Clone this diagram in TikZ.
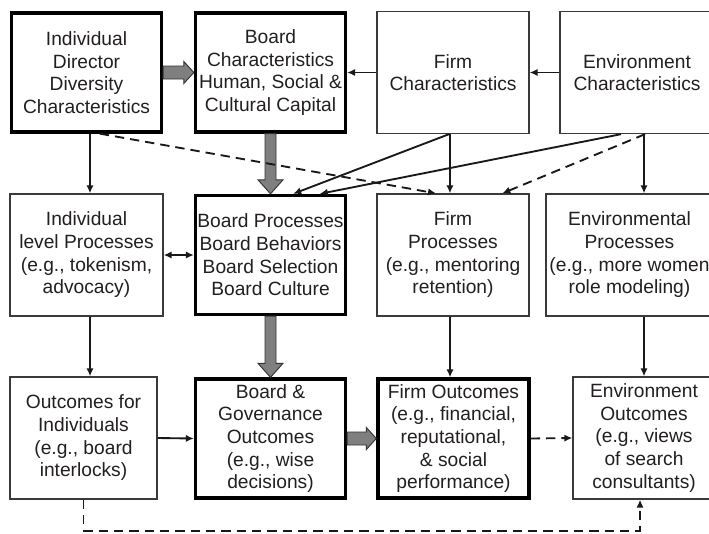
\documentclass[tikz,border=0pt]{standalone}
\usepackage{fontspec}
\setmainfont{Liberation Sans}
\usetikzlibrary{arrows.meta,calc}
\definecolor{txt}{HTML}{231F20}
\definecolor{blkfill}{HTML}{7F7F7F}
\definecolor{thinline}{HTML}{3A3A3A}
\newcommand\vblk[2]{%
 \draw[blk] ($(#1.south)+(-5.5,0)$) -- ($(#2.north)+(-5.5,-14)$) -- ($(#2.north)+(-12.5,-14)$) -- (#2.north) -- ($(#2.north)+(12.5,-14)$) -- ($(#2.north)+(5.5,-14)$) -- ($(#1.south)+(5.5,0)$) -- cycle;}
\newcommand\hblk[2]{%
 \draw[blk] ($(#1.east)+(0,-6.5)$) -- ($(#2.west)+(-10,-6.5)$) -- ($(#2.west)+(-10,-11)$) -- (#2.west) -- ($(#2.west)+(-10,11)$) -- ($(#2.west)+(-10,6.5)$) -- ($(#1.east)+(0,6.5)$) -- cycle;}
\begin{document}
\begin{tikzpicture}[x=0.75pt,y=-0.75pt,
  box/.style={draw=thinline, line width=1pt, align=center, inner sep=0pt,
    minimum height=91.5pt, font=\fontsize{14.4}{17}\selectfont, text=txt},
  thickbox/.style={box, draw=black, line width=2.5pt, minimum height=89.25pt},
  blk/.style={fill=blkfill, draw=black!80, line width=0.7pt, line join=miter},
  arr/.style={draw=black!90, line width=1.4pt, -{Latex[length=6pt,width=5.5pt]}},
  darr/.style={arr, dash pattern=on 7pt off 4.5pt}]
\clip (0,0) rectangle (709,533);
\useasboundingbox (0,0) rectangle (709,533);
\fill[white] (0,0) rectangle (709,533);
% row 1
\node[thickbox, minimum width=112.5pt] (IDD) at (86.5,72.5) {Individual\\Director\\Diversity\\Characteristics};
\node[thickbox, minimum width=112.5pt] (BC) at (270.5,72.5) {Board\\Characteristics\\Human, Social \&\\Cultural Capital};
\node[box, minimum width=114pt] (FC) at (453,72.5) {Firm\\Characteristics};
\node[box, minimum width=115.5pt] (EC) at (637,72.5) {Environment\\Characteristics};
% row 2
\node[box, minimum width=114.75pt] (ILP) at (86.5,255) {Individual\\level Processes\\(e.g., tokenism,\\advocacy)};
\node[thickbox, minimum width=112.5pt] (BP) at (270.5,255) {Board Processes\\Board Behaviors\\Board Selection\\Board Culture};
\node[box, minimum width=114pt] (FP) at (453,255) {Firm\\Processes\\(e.g., mentoring\\retention)};
\node[box, minimum width=125.25pt] (EP) at (629.5,255) {Environmental\\Processes\\(e.g., more women\\role modeling)};
% row 3
\node[box, minimum width=110.25pt] (OI) at (83.5,438) {Outcomes for\\Individuals\\(e.g., board\\interlocks)};
\node[thickbox, minimum width=112.5pt] (BG) at (270.5,438.5) {Board \&\\Governance\\Outcomes\\(e.g., wise\\decisions)};
\node[thickbox, minimum width=113.25pt] (FO) at (453.5,438.5) {Firm Outcomes\\(e.g., financial,\\reputational,\\\& social\\performance)};
\node[box, minimum width=106.5pt] (EO) at (644,438) {Environment\\Outcomes\\(e.g., views\\of search\\consultants)};
% block arrows
\hblk{IDD}{BC}
\vblk{BC}{BP}
\vblk{BP}{BG}
\hblk{BG}{FO}
% thin arrows
\draw[arr] (FC.west) -- (BC.east);
\draw[arr] (EC.west) -- (FC.east);
\draw[arr] ([xshift=2.6pt]IDD.south) -- ([xshift=2.6pt]ILP.north);
\draw[arr] ([xshift=2.6pt]ILP.south) -- ([xshift=4.9pt]OI.north);
\draw[{Latex[length=6pt,width=5.5pt]}-{Latex[length=6pt,width=5.5pt]}, line width=1.4pt, draw=black!90] (ILP.east) -- (BP.west);
\draw[arr] (OI.east) -- (BG.west);
\draw[arr] ([xshift=-2.3pt]FC.south) -- ([xshift=-2.3pt]FP.north);
\draw[arr] ([xshift=-2.3pt]FP.south) -- ([xshift=-2.6pt]FO.north);
\draw[arr] ([xshift=-3pt]FC.south) -- ([xshift=17pt]BP.north);
\draw[arr] ([xshift=-12pt]EC.south) -- ([xshift=37pt]BP.north);
\draw[darr] ([xshift=10pt]IDD.south) -- ([xshift=-12.75pt]FP.north);
\draw[darr] ([xshift=6pt]EC.south) -- ([xshift=37pt]FP.north);
\draw[arr] (EC.south -| EO.north) -- (EP.north -| EO.north);
\draw[arr] (EP.south -| EO.north) -- (EO.north);
\draw[darr] (FO.east) -- (EO.west);
\draw[darr] (OI.south) -- ++(0,31) -| ([xshift=-3pt]EO.south);
\end{tikzpicture}
\end{document}
